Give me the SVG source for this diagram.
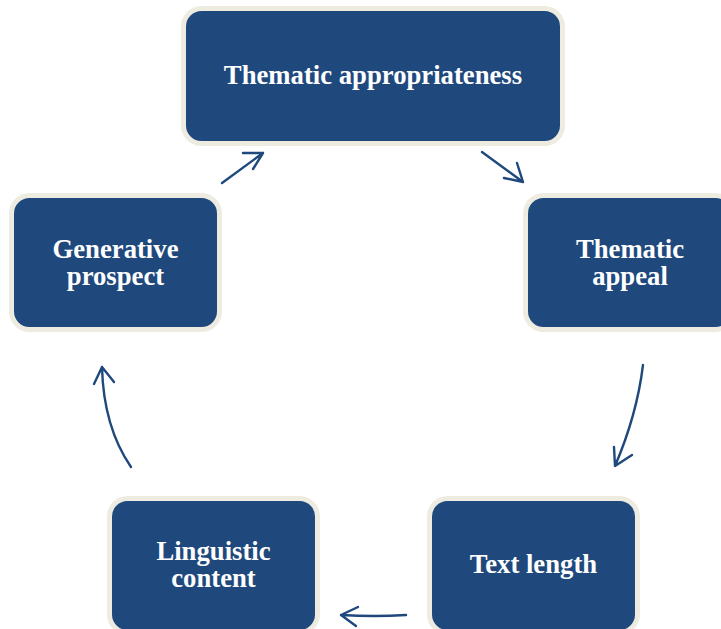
<svg xmlns="http://www.w3.org/2000/svg" width="721" height="629" viewBox="0 0 721 629">
<style>
.box{fill:#1F497D;stroke:#EEEBE0;stroke-width:5}
.lbl{font-family:"Liberation Serif","Times New Roman",serif;font-weight:bold;font-size:26.7px;fill:#FFFFFF;text-anchor:middle}
.arr{fill:none;stroke:#1F497D;stroke-width:2.4;stroke-linecap:round;stroke-linejoin:round}
</style>
<rect width="721" height="629" fill="#FFFFFF"/>
<g id="connectors">
<path class="arr" d="M222,183 L263,153 M243,153 L263,153 L253,169"/>
<path class="arr" d="M482,152 L523,182 M517,163 L523,182 L504,178"/>
<path class="arr" d="M643,365 Q637,414.5 615,466 M614,447 L615,466 L632,455"/>
<path class="arr" d="M406,615 Q375,617 341,615 M358,607 L341,615 L356,626"/>
<path class="arr" d="M131,467 Q103.5,427 102,367 M94,384 L102,367 L114,382"/>
</g>
<g id="node-thematic-appropriateness">
<rect class="box" x="183.5" y="8.5" width="379" height="135" rx="18"/>
<text class="lbl" x="373" y="84">Thematic appropriateness</text>
</g>
<g id="node-thematic-appeal">
<rect class="box" x="525.5" y="195.5" width="208" height="134" rx="18"/>
<text class="lbl" x="630" y="258">Thematic</text>
<text class="lbl" x="630" y="285">appeal</text>
</g>
<g id="node-text-length">
<rect class="box" x="429.5" y="498.5" width="208" height="134" rx="18"/>
<text class="lbl" x="533.5" y="573">Text length</text>
</g>
<g id="node-linguistic-content">
<rect class="box" x="109.5" y="498.5" width="208" height="134" rx="18"/>
<text class="lbl" x="213.5" y="560">Linguistic</text>
<text class="lbl" x="213.5" y="587">content</text>
</g>
<g id="node-generative-prospect">
<rect class="box" x="11.5" y="195.5" width="208" height="134" rx="18"/>
<text class="lbl" x="115.5" y="258">Generative</text>
<text class="lbl" x="115.5" y="285">prospect</text>
</g>
</svg>
